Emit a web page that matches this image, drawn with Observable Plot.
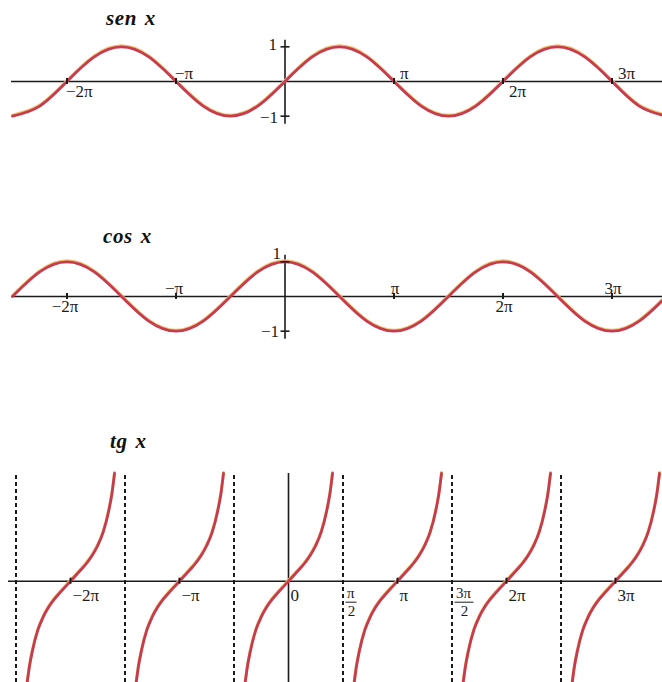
<!DOCTYPE html>
<html><head><meta charset="utf-8">
<script src="https://cdn.jsdelivr.net/npm/d3@7"></script>
<script src="https://cdn.jsdelivr.net/npm/@observablehq/plot@0.6"></script>
<style>
html,body{margin:0;padding:0;background:#fff;}
#root{position:relative;width:662px;height:682px;overflow:hidden;background:#fff;}
.panel{position:absolute;left:0;}
.title{position:absolute;font-family:"Liberation Serif",serif;font-weight:bold;font-style:italic;font-size:21px;line-height:21px;letter-spacing:0.6px;word-spacing:2px;color:#111;white-space:pre;}
</style></head><body><div id="root"></div>
<script>
// ---------- data (x in multiples of π) ----------
const waveX   = [-2.5,-2.25,-2,-1.75,-1.5,-1.25,-1,-0.75,-0.5,-0.25,0,0.25,0.5,0.75,1,1.25,1.5,1.75,2,2.25,2.5,2.75,3,3.25,3.5];
const sinY    = [-1,-0.71,0,0.71,1,0.71,0,-0.71,-1,-0.71,0,0.71,1,0.71,0,-0.71,-1,-0.71,0,0.71,1,0.71,0,-0.71,-1];
const cosY    = [0,0.71,1,0.71,0,-0.71,-1,-0.71,0,0.71,1,0.71,0,-0.71,-1,-0.71,0,0.71,1,0.71,0,-0.71,-1,-0.71,0];

const waveTickX      = [-2,-1,1,2,3];
const waveTickLabels = ["−2π","−π","π","2π","3π"];
const yTickVals      = [1,-1];
const yTickLabels    = ["1","−1"];

// tangent: one branch profile (offset from centre, value) repeated at each centre
const tanOffsets = [-0.43,-0.404,-0.38,-0.35,-0.3,-0.25,-0.2,-0.15,-0.1,-0.05,0,0.05,0.1,0.15,0.2,0.25,0.3,0.35,0.38,0.404];
const tanValues  = [-3.9,-3.08,-2.5,-2.0,-1.4,-1.02,-0.74,-0.52,-0.34,-0.17,0,0.17,0.34,0.52,0.74,1.02,1.4,2.0,2.5,3.08];
const tanCenters    = [-2,-1,0,1,2,3];
const tanAsymptotes = [-2.5,-1.5,-0.5,0.5,1.5,2.5];
const tanTickX      = [-2,-1,0,1,2,3];
const tanTickLabels = ["−2π","−π","0","π","2π","3π"];
const fracX   = [0.5,1.5];
const fracNum = ["π","3π"];
const fracDen = ["2","2"];

const titles = ["sen x","cos x","tg x"];

// ---------- drawing ----------
const W = 662, PX = 109;          // pixels per π
const ink = "#1b1b1b";
const font = "Liberation Serif";
const fs = 17;
const root = document.getElementById("root");

function curve(data, c) {
  return [
    Plot.line(data, {x:"x", y:"y", z:"z", curve:c, stroke:"#f0c070", strokeWidth:3, dy:-1, clip:true}),
    Plot.line(data, {x:"x", y:"y", z:"z", curve:c, stroke:"#c63c4e", strokeWidth:2.8, clip:true})
  ];
}
function place(svg, top) {
  svg.classList.add("panel");
  svg.style.top = top + "px";
  root.appendChild(svg);
}
function title(text, left, top) {
  const d = document.createElement("div");
  d.className = "title"; d.textContent = text;
  d.style.left = left + "px"; d.style.top = top + "px";
  root.appendChild(d);
}

function wavePanel(ys, zeroPx, centered, yLab) {
  const data = waveX.map((x, i) => ({x, y: ys[i], z: 0}));
  const xDom = [-zeroPx / PX, (W - zeroPx) / PX];
  const x0 = (11 - zeroPx) / PX;
  const labelMarks = waveTickX.map((k, i) => {
    const odd = Math.abs(k) % 2 === 1;
    return Plot.text([k], {
      x: d => d, y: () => 0, text: () => waveTickLabels[i],
      textAnchor: centered ? "middle" : "start",
      dx: centered ? (k < 0 ? -2 : 1) : (k < 0 ? -1 : 6),
      dy: odd ? -8 : 10,
      fontFamily: font, fontSize: fs, fill: ink
    });
  });
  const yLabelMarks = yTickVals.map((v, i) => Plot.text([v], {
    x: () => 0, y: d => d, text: () => yTickLabels[i], textAnchor: "end",
    dx: yLab[i][0], dy: yLab[i][1], fontFamily: font, fontSize: fs, fill: ink
  }));
  return Plot.plot({
    width: W, height: 104, margin: 0,
    style: {background: "transparent", overflow: "visible"},
    x: {domain: xDom, axis: null},
    y: {domain: [-1.5, 1.5], axis: null},
    marks: [
      Plot.ruleY([0], {x1: x0, x2: xDom[1], stroke: ink, strokeWidth: 1.6}),
      Plot.ruleX([0], {y1: -1.23, y2: 1.19, stroke: ink, strokeWidth: 1.6}),
      ...curve(data, "natural"),
      Plot.ruleX(waveTickX, {y1: -0.09, y2: 0.09, stroke: ink, strokeWidth: 2}),
      Plot.ruleY(yTickVals, {x1: -4 / PX, x2: 5 / PX, stroke: ink, strokeWidth: 1.6}),
      ...labelMarks,
      ...yLabelMarks
    ]
  });
}

// sen x
place(wavePanel(sinY, 284.5, false, [[-8, -2], [-7, 1]]), 29);
title(titles[0], 106, 8);
// cos x
place(wavePanel(cosY, 284.5, true, [[-4, -8], [-6, 0]]), 244);
title(titles[1], 103, 226);

// tg x
{
  const zeroPx = 288, top = 470, h = 212, axisPx = 580.7, k = 35;
  const yTop = (axisPx - top) / k, yBot = (axisPx - (top + h)) / k;
  const yEnd = (axisPx - 473) / k;
  const data = [];
  tanCenters.forEach(c => tanOffsets.forEach((o, i) => data.push({x: c + o, y: tanValues[i], z: c})));
  const xDom = [-zeroPx / PX, (W - zeroPx) / PX];
  const frac = fracX.map((x, i) => ({x, num: fracNum[i], den: fracDen[i], w: fracNum[i].length * 8 + 3}));
  const svg = Plot.plot({
    width: W, height: h, margin: 0,
    style: {background: "transparent", overflow: "visible"},
    x: {domain: xDom, axis: null},
    y: {domain: [yBot, yTop], axis: null},
    marks: [
      Plot.ruleY([0], {x1: (8 - zeroPx) / PX, x2: xDom[1], stroke: ink, strokeWidth: 1.6}),
      Plot.ruleX([0], {y1: yBot, y2: yEnd, stroke: ink, strokeWidth: 1.6}),
      Plot.ruleX(tanAsymptotes, {y1: yBot, y2: yEnd, stroke: ink, strokeWidth: 2, strokeDasharray: "4,3"}),
      ...curve(data, "monotone-x"),
      Plot.ruleX(tanTickX.filter(v => v !== 0), {y1: -3 / k, y2: 3 / k, stroke: ink, strokeWidth: 2}),
      ...tanTickX.map((v, i) => Plot.text([v], {
        x: d => d, y: () => 0, text: () => tanTickLabels[i], textAnchor: "start",
        dx: 2, dy: 14, fontFamily: font, fontSize: fs, fill: ink
      })),
      Plot.text(frac, {x: "x", y: () => 0, text: "num", textAnchor: "start", dx: 4, dy: 12,
        fontFamily: font, fontSize: 15, fill: ink}),
      Plot.ruleY(frac, {y: () => 0, x1: d => d.x + 3 / PX, x2: d => d.x + (3 + d.w) / PX, dy: 21,
        stroke: ink, strokeWidth: 1}),
      Plot.text(frac, {x: d => d.x + (3 + d.w / 2) / PX, y: () => 0, text: "den", textAnchor: "middle",
        dy: 30, fontFamily: font, fontSize: 15, fill: ink})
    ]
  });
  place(svg, top);
  title(titles[2], 110, 431);
}
</script></body></html>
